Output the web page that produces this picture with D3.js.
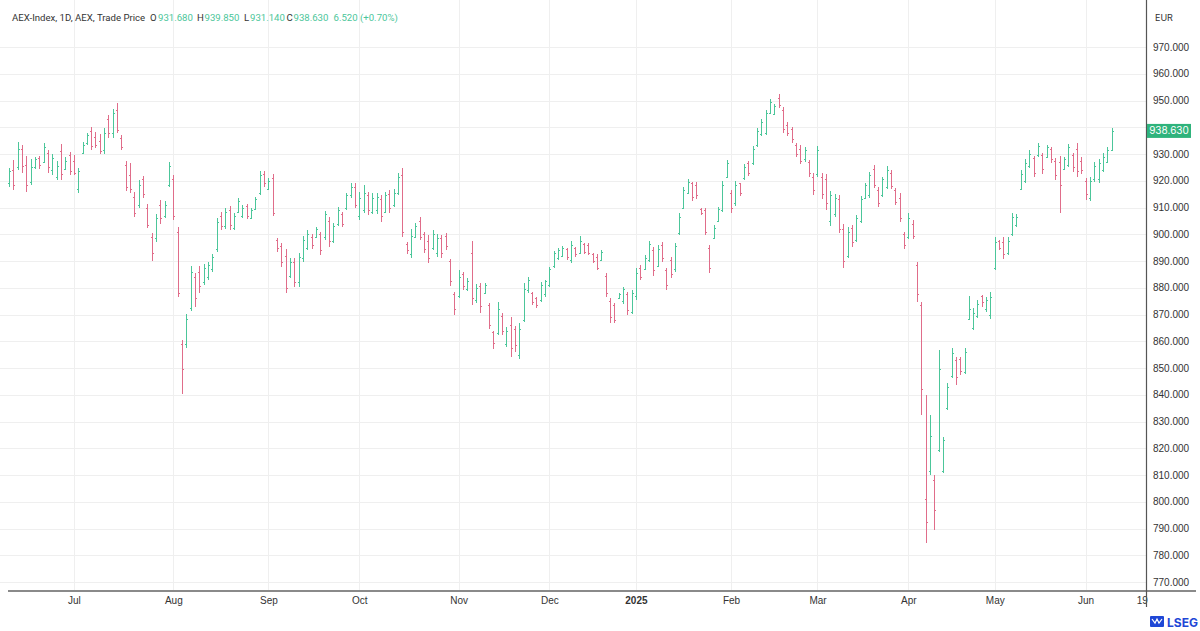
<!doctype html>
<html>
<head>
<meta charset="utf-8">
<script src="https://cdn.jsdelivr.net/npm/d3@7"></script>
<style>
  body { margin: 0; background: #fff; }
  svg { display: block; font-family: Inter, "Liberation Sans", sans-serif; }
  .grid line { stroke: #efefef; shape-rendering: crispEdges; }
  .bars line { shape-rendering: crispEdges; stroke-width: 1; }
  .yaxis text, .xaxis text { font-size: 10px; fill: #333; }
  .hdr { font-family: Roboto, "Liberation Sans", sans-serif; font-size: 9.6px; }
</style>
</head>
<body>
<svg width="1200" height="631"></svg>
<script>
// trading calendar (Euronext Amsterdam)
var startDay = "2024-06-10";
var axisEnd = "2025-06-19";
var holidays = ["2024-12-25", "2024-12-26", "2025-01-01", "2025-04-18", "2025-04-21", "2025-05-01"];

var monthTicks = ["2024-07-01", "2024-08-01", "2024-09-02", "2024-10-01", "2024-11-01", "2024-12-02",
                  "2025-01-02", "2025-02-03", "2025-03-03", "2025-04-01", "2025-05-02", "2025-06-02", "2025-06-19"];
var monthLabels = ["Jul", "Aug", "Sep", "Oct", "Nov", "Dec", "2025", "Feb", "Mar", "Apr", "May", "Jun", "19"];

var priceTicks = [770, 780, 790, 800, 810, 820, 830, 840, 850, 860, 870, 880, 890, 900, 910, 920, 930, 940, 950, 960, 970];
// 940 sits under the last-price tag, so it has no label
var priceLabels = [770, 780, 790, 800, 810, 820, 830, 840, 850, 860, 870, 880, 890, 900, 910, 920, 930, 950, 960, 970];

// daily OHLC
var openP = [
  919.0, 924.0, 925.0, 932.0, 926.0, 919.5, 925.0, 928.5, 927.0, 930.5, 924.0, 921.5, 931.0, 924.5, 929.5,
  927.5, 917.0, 930.5, 934.0, 938.5, 936.5, 935.0, 931.5, 943.0, 938.0, 946.5, 936.0, 926.0, 922.0, 914.0, 911.0, 920.5, 910.0, 899.0, 898.5, 911.0, 907.0, 918.5,
  920.5, 901.0, 859.0, 859.0, 872.5, 884.0, 886.0, 882.0, 884.0, 887.0, 894.5, 907.0, 903.0, 909.0, 902.5, 908.5, 907.0, 910.5, 906.0, 909.5, 915.5, 922.5,
  917.0, 921.0, 898.0, 895.5, 892.0, 884.5, 889.5, 882.0, 891.0, 895.0, 899.0, 899.0, 900.0, 899.0, 905.0, 897.5, 904.0, 907.5, 910.0, 914.5, 917.5,
  907.0, 909.0, 914.5, 908.5, 909.0, 913.0, 908.5, 915.0, 911.0, 915.5, 922.0, 896.5, 892.5, 899.0, 905.0, 900.0, 897.5, 895.0, 893.0, 898.5, 899.5, 890.0, 877.5,
  877.0, 885.0, 879.5, 893.0, 875.5, 880.5, 878.0, 873.5, 863.5, 863.0, 869.5, 859.0, 866.0, 864.5, 855.0, 868.0, 879.0, 878.0, 876.0, 875.5, 877.5,
  881.0, 888.0, 891.0, 892.0, 894.5, 890.5, 895.0, 893.0, 896.5, 896.0, 892.5, 891.5, 890.5, 884.5, 875.0, 873.5, 876.0, 875.0, 877.5, 871.0,
  877.0, 887.5, 887.0, 890.5, 894.0, 888.0, 896.0, 886.5, 890.5, 887.0, 900.5, 910.0, 915.5, 919.0, 918.5, 909.5, 909.0, 895.0, 898.5, 905.0, 909.0, 921.5,
  915.5, 911.5, 919.0, 921.0, 926.5, 926.5, 933.5, 937.5, 938.0, 945.5, 945.0, 951.0, 946.5, 941.0, 939.5, 933.5, 932.0, 928.0, 927.0, 921.5,
  922.5, 921.5, 920.5, 905.0, 907.5, 913.0, 902.0, 892.0, 902.5, 898.0, 905.0, 913.5, 914.5, 924.5, 916.5, 914.5, 917.5, 923.0, 916.5, 913.5, 900.0,
  899.0, 904.0, 888.5, 873.5, 801.0, 811.5, 808.0, 819.5, 811.5, 835.0, 847.0, 853.0, 853.5, 848.5, 868.5, 865.0, 869.5, 877.0, 872.0, 870.0,
  887.5, 897.5, 897.0, 893.0, 900.0, 903.5, 917.0, 920.0, 925.5, 928.5, 929.5, 929.5, 929.0, 932.0, 927.5, 927.0, 924.5, 926.0, 929.5, 932.0, 927.5,
  920.0, 913.5, 920.5, 920.5, 924.0, 927.0, 931.68
];
var highP = [
  924.8, 927.8, 934.6, 933.4, 929.2, 928.0, 929.0, 929.2, 934.0, 931.5, 930.0, 927.4, 933.7, 929.0, 930.9,
  929.6, 924.8, 934.6, 937.8, 940.2, 938.4, 937.4, 939.8, 944.6, 946.8, 949.0, 937.0, 927.4, 926.6, 915.9, 920.3, 921.8, 911.3, 900.5, 907.6, 912.8, 912.4, 927.0,
  922.1, 902.8, 860.5, 870.2, 888.0, 885.5, 888.0, 889.0, 889.7, 892.6, 906.0, 908.4, 909.7, 910.6, 908.0, 913.4, 910.9, 911.3, 909.7, 914.0, 923.8, 923.8,
  920.9, 922.5, 898.5, 896.7, 894.4, 891.0, 891.0, 892.9, 899.4, 901.6, 900.1, 902.6, 901.0, 908.8, 906.6, 904.3, 910.3, 908.4, 915.5, 919.0, 919.3,
  915.9, 918.4, 915.9, 915.3, 915.3, 914.7, 915.9, 916.5, 916.8, 922.8, 924.6, 897.2, 901.8, 904.3, 906.6, 901.0, 899.7, 901.6, 900.1, 899.7, 900.4, 890.9, 878.5,
  886.6, 886.0, 883.5, 897.5, 881.4, 881.7, 881.9, 874.4, 864.0, 874.8, 870.7, 865.4, 869.0, 865.7, 866.7, 881.7, 884.1, 878.5, 876.7, 882.3, 883.0,
  887.9, 893.9, 894.8, 895.6, 895.0, 897.5, 895.4, 899.3, 896.9, 896.6, 892.9, 892.6, 894.1, 885.4, 876.0, 874.4, 878.2, 880.4, 878.5, 879.2,
  887.3, 888.5, 892.2, 897.5, 895.1, 896.0, 897.2, 887.3, 891.6, 896.9, 907.8, 917.6, 920.5, 919.7, 919.7, 909.7, 909.7, 896.0, 903.5, 910.3, 920.0, 927.8,
  916.5, 920.0, 919.3, 926.3, 927.5, 933.0, 939.8, 943.0, 946.4, 950.4, 948.7, 952.4, 947.7, 942.1, 940.2, 934.2, 933.4, 932.7, 927.8, 923.0,
  933.0, 922.8, 922.5, 916.3, 915.0, 914.7, 903.8, 902.8, 903.5, 907.2, 914.3, 919.3, 923.4, 925.9, 917.6, 921.5, 925.5, 924.0, 917.2, 915.3, 901.0,
  907.8, 905.3, 889.7, 874.8, 839.9, 832.4, 810.0, 856.7, 824.3, 844.3, 857.4, 854.2, 854.2, 857.4, 876.9, 872.3, 875.4, 877.3, 876.7, 878.5,
  899.1, 897.9, 898.9, 899.1, 907.8, 907.6, 924.0, 928.0, 931.5, 929.3, 934.2, 930.5, 933.4, 932.5, 928.4, 929.3, 928.8, 933.7, 930.5, 934.2, 928.8,
  920.9, 921.3, 927.1, 928.0, 930.3, 932.7, 939.85
];
var lowP = [
  917.7, 916.5, 924.0, 923.0, 915.9, 918.4, 924.4, 924.4, 926.6, 923.0, 922.0, 920.3, 920.3, 924.0, 922.0,
  922.0, 915.4, 930.0, 933.4, 931.5, 932.2, 930.0, 930.0, 936.0, 936.0, 937.8, 931.5, 916.2, 915.4, 906.4, 909.8, 913.5, 902.3, 890.0, 897.1, 903.8, 906.0, 917.8,
  905.3, 876.5, 840.3, 857.5, 871.3, 872.8, 878.0, 881.0, 882.9, 886.0, 893.5, 901.6, 901.8, 901.6, 901.6, 907.8, 906.0, 905.6, 905.6, 909.0, 914.7, 917.8,
  916.5, 906.8, 893.5, 887.9, 878.2, 883.5, 880.2, 880.2, 889.8, 894.1, 894.4, 898.9, 892.2, 897.9, 895.3, 896.6, 903.1, 902.8, 909.1, 913.4, 909.7,
  905.3, 907.8, 907.2, 907.6, 907.6, 904.7, 907.8, 908.0, 910.3, 914.7, 899.1, 892.6, 891.0, 898.5, 897.9, 892.9, 889.4, 894.1, 891.6, 891.0, 894.1, 880.7, 869.8,
  876.1, 879.2, 878.9, 873.6, 874.2, 870.4, 877.7, 864.5, 857.0, 862.3, 862.3, 858.0, 854.2, 856.1, 853.2, 867.3, 877.9, 873.5, 872.3, 874.8, 876.5,
  880.2, 887.3, 890.4, 891.6, 890.4, 889.1, 891.6, 892.6, 892.6, 892.2, 889.1, 886.6, 890.1, 876.4, 866.7, 866.7, 875.7, 873.9, 869.8, 870.2,
  875.4, 882.9, 886.6, 889.7, 884.4, 887.6, 889.7, 879.2, 883.5, 886.0, 899.7, 909.3, 915.0, 912.5, 913.1, 907.2, 899.7, 885.6, 898.1, 904.7, 908.4, 920.9,
  908.0, 910.6, 914.3, 920.3, 921.8, 925.9, 932.7, 936.7, 937.1, 945.0, 944.8, 947.1, 937.7, 936.7, 934.2, 928.8, 926.3, 927.1, 921.5, 914.7,
  921.5, 913.1, 909.1, 903.1, 906.6, 900.4, 887.3, 891.0, 895.4, 897.2, 904.1, 913.1, 913.4, 917.2, 910.1, 913.8, 916.8, 916.8, 910.9, 904.7, 894.4,
  898.1, 898.1, 874.8, 832.4, 784.5, 810.0, 789.4, 818.7, 810.6, 834.3, 846.2, 843.6, 847.4, 847.8, 867.9, 864.2, 868.6, 872.9, 871.0, 868.2,
  886.6, 894.1, 890.7, 892.2, 899.3, 902.6, 916.5, 919.0, 924.7, 921.3, 929.0, 922.5, 928.8, 926.8, 920.3, 907.8, 924.3, 925.3, 923.4, 921.5, 922.5,
  912.8, 912.5, 919.7, 919.3, 923.4, 926.5, 931.14
];
var closeP = [
  923.5, 918.5, 932.0, 925.5, 918.5, 925.0, 928.0, 926.0, 932.5, 925.0, 928.5, 925.5, 922.5, 927.5, 923.5,
  923.0, 923.5, 933.5, 937.0, 933.0, 933.5, 931.0, 938.0, 938.0, 945.5, 939.0, 932.5, 917.5, 917.0, 908.0, 918.5, 915.0, 903.5, 893.0, 906.0, 906.0, 911.0, 925.5,
  907.0, 878.0, 849.5, 868.5, 886.0, 876.0, 880.5, 887.5, 888.5, 891.5, 904.5, 903.0, 908.5, 903.5, 907.0, 912.5, 910.0, 907.0, 909.0, 913.0, 922.0, 919.0,
  920.0, 908.0, 895.0, 889.5, 880.0, 889.5, 882.0, 891.5, 898.0, 900.0, 896.0, 902.0, 894.0, 907.5, 897.5, 903.0, 909.0, 904.0, 914.5, 917.5, 911.0,
  913.5, 915.5, 909.0, 913.5, 914.0, 907.0, 914.5, 910.0, 915.5, 921.5, 901.0, 894.0, 899.5, 903.0, 899.0, 894.5, 891.0, 900.0, 898.5, 893.0, 895.5, 882.5, 872.0,
  884.0, 880.5, 882.5, 876.0, 880.0, 873.0, 881.0, 866.0, 859.5, 872.0, 864.0, 864.0, 857.5, 858.5, 864.5, 879.5, 883.0, 874.5, 873.5, 881.0, 882.5,
  887.0, 893.0, 894.0, 895.0, 891.5, 896.0, 892.5, 897.5, 893.5, 893.0, 890.0, 887.5, 893.5, 878.0, 869.0, 868.0, 877.5, 879.5, 871.5, 878.0,
  885.5, 884.0, 891.0, 896.5, 886.5, 894.5, 891.0, 881.0, 885.0, 895.5, 906.5, 916.5, 919.5, 914.0, 914.5, 908.0, 901.0, 887.5, 902.5, 909.5, 918.5, 926.5,
  910.0, 918.5, 915.5, 925.0, 923.0, 932.0, 938.5, 942.0, 945.5, 949.5, 948.0, 948.5, 939.5, 938.0, 935.5, 930.0, 927.5, 931.5, 923.0, 916.5,
  931.5, 915.0, 911.5, 914.5, 913.5, 902.0, 890.0, 901.0, 897.0, 906.0, 913.0, 918.5, 922.0, 918.5, 911.5, 920.5, 924.0, 918.0, 912.0, 906.0, 896.0,
  906.0, 899.5, 877.5, 842.0, 792.5, 824.5, 797.0, 849.5, 823.0, 843.0, 855.5, 846.5, 849.0, 856.0, 872.0, 870.5, 874.0, 874.5, 875.5, 876.5,
  897.0, 895.0, 892.5, 897.5, 906.5, 906.5, 922.5, 926.5, 930.0, 923.0, 933.0, 924.5, 932.5, 928.0, 922.0, 918.5, 928.0, 932.5, 925.0, 923.5, 924.0,
  915.0, 920.0, 925.5, 926.5, 929.0, 931.5, 938.63
];

var lastPrice = "938.630";
var upColor = "#4cc69a", downColor = "#e06d8a";

// build trading days
var parse = d3.timeParse("%Y-%m-%d"), fmt = d3.timeFormat("%Y-%m-%d");
var days = d3.timeDay.range(parse(startDay), d3.timeDay.offset(parse(axisEnd), 1))
  .filter(function(d) { return d.getDay() > 0 && d.getDay() < 6 && holidays.indexOf(fmt(d)) < 0; })
  .map(fmt);

var bars = openP.map(function(o, i) {
  return { date: days[i], i: i, o: o, h: highP[i], l: lowP[i], c: closeP[i] };
});

var svg = d3.select("svg");
var plotRight = 1146, plotBottom = 591;

var xScale = d3.scaleLinear().domain([0, bars.length - 1]).range([9, 1111.5]);
var yScale = d3.scaleLinear().domain([770, 970]).range([582, 47]);

var tickIdx = monthTicks.map(function(d) { return days.indexOf(d); });

// grid
var grid = svg.append("g").attr("class", "grid");
grid.selectAll("line.h").data(priceTicks).enter().append("line")
  .attr("class", "h")
  .attr("x1", 0).attr("x2", plotRight)
  .attr("y1", function(d) { return Math.round(yScale(d)) + 0.5; })
  .attr("y2", function(d) { return Math.round(yScale(d)) + 0.5; });
grid.selectAll("line.v").data(tickIdx.slice(0, 12)).enter().append("line")
  .attr("class", "v")
  .attr("y1", 0).attr("y2", plotBottom)
  .attr("x1", function(d) { return Math.round(xScale(d)) + 0.5; })
  .attr("x2", function(d) { return Math.round(xScale(d)) + 0.5; });

// OHLC bars
var g = svg.append("g").attr("class", "bars")
  .selectAll("g").data(bars).enter().append("g")
  .attr("stroke", function(d) { return d.c >= d.o ? upColor : downColor; });
function px(d) { return Math.round(xScale(d.i)) + 0.5; }
g.append("line")
  .attr("x1", px).attr("x2", px)
  .attr("y1", function(d) { return yScale(d.h); })
  .attr("y2", function(d) { return yScale(d.l); });
g.append("line")
  .attr("x1", function(d) { return px(d) - 1.5; }).attr("x2", px)
  .attr("y1", function(d) { return Math.round(yScale(d.o)) + 0.5; })
  .attr("y2", function(d) { return Math.round(yScale(d.o)) + 0.5; });
g.append("line")
  .attr("x1", px).attr("x2", function(d) { return px(d) + 1.5; })
  .attr("y1", function(d) { return Math.round(yScale(d.c)) + 0.5; })
  .attr("y2", function(d) { return Math.round(yScale(d.c)) + 0.5; });

// y axis on the right
var yAxis = d3.axisRight(yScale).tickValues(priceLabels).tickSize(0).tickPadding(7)
  .tickFormat(d3.format(".3f"));
svg.append("g").attr("class", "yaxis")
  .attr("transform", "translate(" + plotRight + ",0)")
  .call(yAxis)
  .call(function(s) { s.select(".domain").remove(); });

// x axis
var xAxis = d3.axisBottom(xScale).tickValues(tickIdx).tickSize(0).tickPadding(6)
  .tickFormat(function(d, i) { return monthLabels[i]; });
svg.append("g").attr("class", "xaxis")
  .attr("transform", "translate(0," + plotBottom + ")")
  .call(xAxis)
  .call(function(s) {
    s.select(".domain").remove();
    s.selectAll("text").filter(function(d, i) { return monthLabels[i] === "2025"; })
      .attr("font-weight", "bold");
  });

// axis frame lines
svg.append("line").attr("x1", 8).attr("x2", 1196).attr("y1", plotBottom).attr("y2", plotBottom)
  .attr("stroke", "#8a8a8a").attr("stroke-width", 2);
svg.append("line").attr("x1", plotRight + 0.5).attr("x2", plotRight + 0.5).attr("y1", 0).attr("y2", 607)
  .attr("stroke", "#555").attr("stroke-width", 1.2);

svg.append("text").attr("x", 1155).attr("y", 21).attr("font-size", 9).attr("fill", "#333").text("EUR");

// last price label
var lp = yScale(closeP[closeP.length - 1]);
svg.append("rect").attr("x", plotRight + 1).attr("y", lp - 7).attr("width", 44).attr("height", 14)
  .attr("fill", "#2fb37c");
svg.append("text").attr("x", plotRight + 23).attr("y", lp + 3.5).attr("text-anchor", "middle")
  .attr("font-size", 10).attr("fill", "#fff").text(lastPrice);

// header legend: [text, colour, x]
var hdrParts = [
  ["AEX-Index, 1D, AEX, Trade Price", "#333", 12], ["O", "#333", 150], ["931.680", upColor, 158],
  ["H", "#333", 197], ["939.850", upColor, 204.5], ["L", "#333", 244], ["931.140", upColor, 250],
  ["C", "#333", 286.5], ["938.630", upColor, 293.5], ["6.520 (+0.70%)", upColor, 333.5]
];
svg.append("g").attr("class", "hdr").selectAll("text").data(hdrParts).enter().append("text")
  .attr("x", function(d) { return d[2]; }).attr("y", 21)
  .attr("fill", function(d) { return d[1]; })
  .text(function(d) { return d[0]; });

// LSEG mark
var logo = svg.append("g").attr("transform", "translate(1150,614)");
logo.append("rect").attr("x", 0).attr("y", 2).attr("width", 14).attr("height", 11).attr("fill", "#1f47d6").attr("rx", 1);
logo.append("path").attr("d", "M2,5 L5,9 L7,5 L9,9 L12,5").attr("stroke", "#fff").attr("stroke-width", 1.2).attr("fill", "none");
logo.append("text").attr("x", 17).attr("y", 12.5).attr("font-size", 12).attr("font-weight", "bold")
  .attr("fill", "#1f47d6").text("LSEG");
</script>
</body>
</html>
